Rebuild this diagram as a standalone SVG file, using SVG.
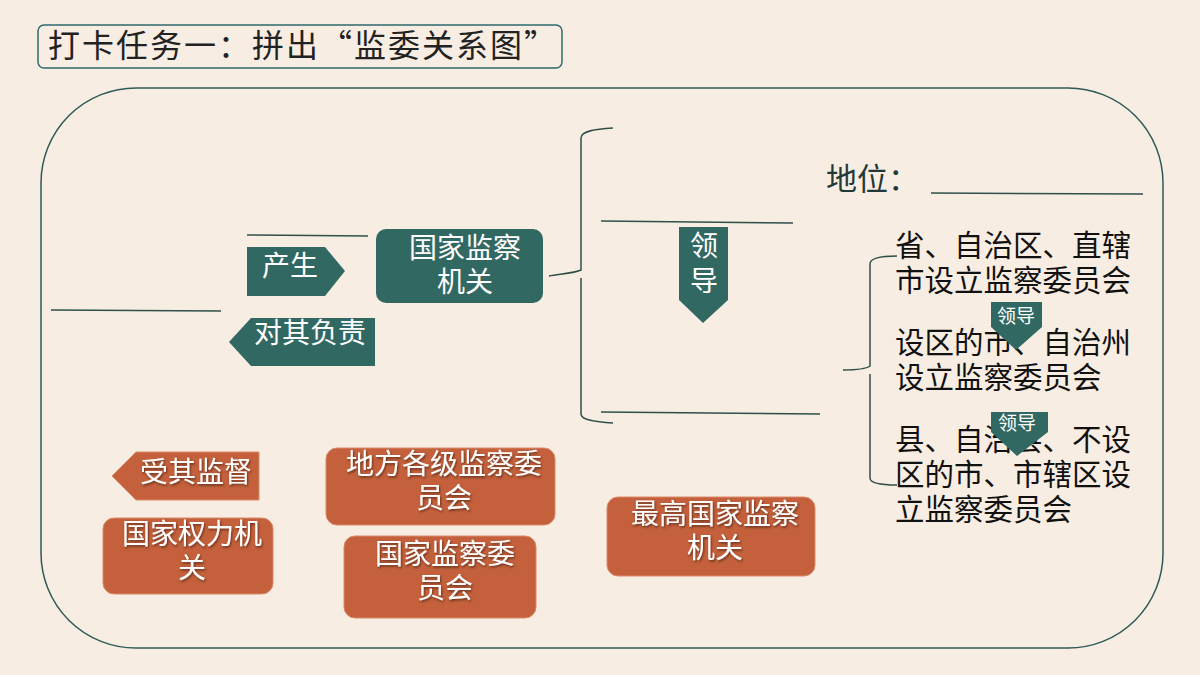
<svg xmlns="http://www.w3.org/2000/svg" width="1200" height="675" viewBox="0 0 1200 675">
<defs>
<style>
text{font-family:"Noto Sans CJK SC","Noto Sans",sans-serif}
.ln{stroke:#2f4f4a;stroke-width:1.5;fill:none}
.teal{fill:#326862}
.org{fill:#c4603b;stroke:#d98a6a;stroke-width:1}
.wt{fill:#ffffff;font-size:28px;text-anchor:middle}
.bk{fill:#111111;font-size:29.5px}
.sm{fill:#ffffff;font-size:19px;text-anchor:middle}
</style>
<filter id="sh" x="-10%" y="-10%" width="120%" height="130%"><feDropShadow dx="1" dy="1.5" stdDeviation="0.8" flood-color="#000" flood-opacity="0.5"/></filter>
</defs>
<rect width="1200" height="675" fill="#f8ede3"/>
<g id="title">
<rect x="38" y="25" width="524" height="43" rx="6" fill="none" stroke="#2e6a6e" stroke-width="1.5"/>
<text x="48" y="57" font-size="32" fill="#222" textLength="508" lengthAdjust="spacing">打卡任务一：拼出“监委关系图”</text>
</g>
<g id="frame">
<rect x="41" y="88" width="1122" height="560" rx="95" fill="none" stroke="#2e5a58" stroke-width="1.5"/>
</g>
<g id="connectors">
<line class="ln" x1="51" y1="310" x2="221" y2="311"/>
<line class="ln" x1="247" y1="235" x2="368" y2="236"/>
<line class="ln" x1="601" y1="221" x2="793" y2="223"/>
<line class="ln" x1="601" y1="412" x2="820" y2="414"/>
<line class="ln" x1="931" y1="193" x2="1143" y2="194"/>
<path class="ln" d="M549,276 C560,274 575,273 581,270 L581,138 C581,131 595,129 613,128 M581,278 L581,414 C581,420 595,422 613,423"/>
<path class="ln" d="M843,370 C855,370 866,369 870,366 L870,264 C870,258 880,256 897,256 M870,374 L870,478 C870,483 880,485 897,485"/>
</g>
<g id="chansheng">
<polygon class="teal" points="247,247 325,247 345,271 325,296 247,296"/>
<text class="wt" x="290" y="276">产生</text>
</g>
<g id="fuze">
<polygon class="teal" points="229,342 251,318 375,318 375,366 251,366"/>
<text class="wt" x="310" y="343">对其负责</text>
</g>
<g id="guojia">
<rect class="teal" x="376" y="229" width="167" height="74" rx="10"/>
<text class="wt" x="465" y="258">国家监察</text>
<text class="wt" x="465" y="292">机关</text>
</g>
<g id="lingdao">
<polygon class="teal" points="679,227 728,227 728,300 703,323 679,300"/>
<text class="wt" x="704" y="256">领</text>
<text class="wt" x="704" y="291">导</text>
</g>
<g id="diwei">
<text x="826" y="190" font-size="31" fill="#1f3a38">地位：</text>
</g>
<g id="levels">
<text class="bk" x="895" y="256">省、自治区、直辖</text>
<text class="bk" x="895" y="291">市设立监察委员会</text>
<text class="bk" x="895" y="353">设区的市、自治州</text>
<text class="bk" x="895" y="388">设立监察委员会</text>
<text class="bk" x="895" y="450">县、自治县、不设</text>
<text class="bk" x="895" y="485">区的市、市辖区设</text>
<text class="bk" x="895" y="520">立监察委员会</text>
</g>
<g id="ld1">
<polygon class="teal" points="991,302 1042,302 1042,327 1016,350 991,327"/>
<text class="sm" x="1016" y="323">领导</text>
</g>
<g id="ld2">
<polygon class="teal" points="991,412 1048,412 1048,432 1017,456 991,432"/>
<text class="sm" x="1017" y="430">领导</text>
</g>
<g id="jiandu">
<polygon class="org" points="112,476 136,452 259,452 259,500 136,500"/>
<text class="wt" x="196" y="482" filter="url(#sh)">受其监督</text>
</g>
<g id="quanli">
<rect class="org" x="103" y="518" width="170" height="76" rx="11"/>
<text class="wt" x="192" y="544" filter="url(#sh)">国家权力机</text>
<text class="wt" x="192" y="578" filter="url(#sh)">关</text>
</g>
<g id="difang">
<rect class="org" x="326" y="448" width="229" height="77" rx="11"/>
<text class="wt" x="444" y="474" filter="url(#sh)">地方各级监察委</text>
<text class="wt" x="444" y="508" filter="url(#sh)">员会</text>
</g>
<g id="weiyuanhui">
<rect class="org" x="344" y="536" width="192" height="82" rx="11"/>
<text class="wt" x="445" y="564" filter="url(#sh)">国家监察委</text>
<text class="wt" x="445" y="598" filter="url(#sh)">员会</text>
</g>
<g id="zuigao">
<rect class="org" x="607" y="497" width="208" height="79" rx="11"/>
<text class="wt" x="715" y="524" filter="url(#sh)">最高国家监察</text>
<text class="wt" x="715" y="558" filter="url(#sh)">机关</text>
</g>
</svg>
